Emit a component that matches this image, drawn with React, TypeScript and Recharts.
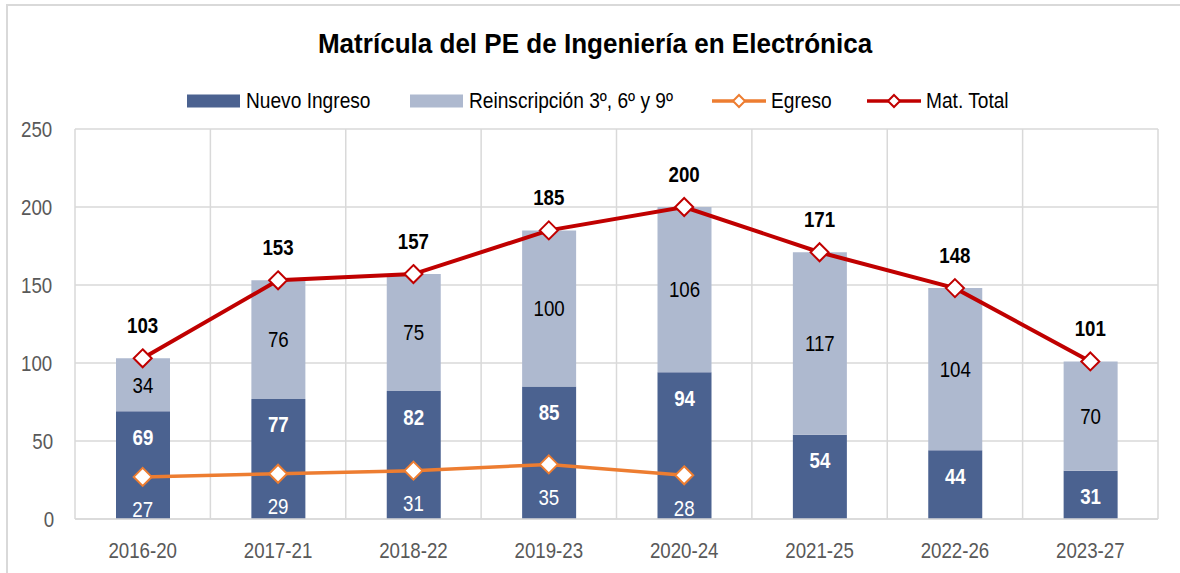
import {
  ComposedChart,
  Bar,
  Line,
  XAxis,
  YAxis,
  CartesianGrid,
  LabelList,
} from 'recharts'

const categories = ['2016-20', '2017-21', '2018-22', '2019-23', '2020-24', '2021-25', '2022-26', '2023-27']
const nuevoIngreso = [69, 77, 82, 85, 94, 54, 44, 31]
const reinscripcion = [34, 76, 75, 100, 106, 117, 104, 70]
const egreso = [27, 29, 31, 35, 28, null, null, null]
const matTotal = [103, 153, 157, 185, 200, 171, 148, 101]
const yTicks = [0, 50, 100, 150, 200, 250]

const FONT = '"Liberation Sans", Arial, sans-serif'
const DARK = '#4b6290'
const LIGHT = '#aeb9cf'
const ORANGE = '#ed7d31'
const RED = '#c00000'
const GRID = '#d9d9d9'

// the original uses a narrow face; squeeze the regular one instead
const narrow = { transform: 'scaleX(0.85)', transformBox: 'fill-box', transformOrigin: 'center' } as any

const data = categories.map((name, i) => ({
  name,
  nuevo: nuevoIngreso[i],
  reins: reinscripcion[i],
  egreso: egreso[i],
  total: matTotal[i],
}))

function diamond(color: string) {
  return (props: any) => {
    const { cx, cy, index } = props
    if (cx == null || cy == null) return <g key={`e-${index}`} />
    const r = 9
    return (
      <path
        key={`d-${index}`}
        d={`M${cx},${cy - r}L${cx + r},${cy}L${cx},${cy + r}L${cx - r},${cy}Z`}
        fill="#fff"
        stroke={color}
        strokeWidth={2}
      />
    )
  }
}

function LegendSwatch({ kind, color }: { kind: 'bar' | 'line'; color: string }) {
  return (
    <svg width={54} height={16} style={{ display: 'block' }}>
      {kind === 'bar' ? (
        <rect x={0} y={1.5} width={53} height={13} fill={color} />
      ) : (
        <>
          <line x1={0} y1={8} x2={54} y2={8} stroke={color} strokeWidth={3.5} />
          <path d="M27,2L33,8L27,14L21,8Z" fill="#fff" stroke={color} strokeWidth={2} />
        </>
      )}
    </svg>
  )
}

const legendItems = [
  { label: 'Nuevo Ingreso', kind: 'bar' as const, color: DARK, x: 187 },
  { label: 'Reinscripción 3º, 6º y 9º', kind: 'bar' as const, color: LIGHT, x: 410 },
  { label: 'Egreso', kind: 'line' as const, color: ORANGE, x: 712 },
  { label: 'Mat. Total', kind: 'line' as const, color: RED, x: 867 },
]

export default function App() {
  return (
    <div
      style={{
        position: 'absolute',
        left: 0,
        top: 0,
        width: 1180,
        height: 573,
        overflow: 'hidden',
        background: '#fff',
        fontFamily: FONT,
      }}
    >
      <div
        style={{
          position: 'absolute',
          left: 6,
          top: 4,
          width: 1200,
          height: 600,
          border: `2px solid ${GRID}`,
        }}
      />
      <div
        style={{
          position: 'absolute',
          left: 0,
          top: 25,
          width: 1190,
          textAlign: 'center',
          fontSize: 28,
          lineHeight: '38px',
          fontWeight: 'bold',
          color: '#000',
          transform: 'scaleX(0.93)',
          transformOrigin: '596px 50%',
        }}
      >
        Matrícula del PE de Ingeniería en Electrónica
      </div>
      {legendItems.map((it) => (
        <div
          key={it.label}
          style={{
            position: 'absolute',
            left: it.x,
            top: 87,
            height: 28,
            display: 'flex',
            alignItems: 'center',
            fontSize: 22,
            color: '#000',
            whiteSpace: 'nowrap',
          }}
        >
          <LegendSwatch kind={it.kind} color={it.color} />
          <span
            style={{
              marginLeft: 5,
              display: 'inline-block',
              transform: 'scaleX(0.87)',
              transformOrigin: 'left center',
            }}
          >
            {it.label}
          </span>
        </div>
      ))}
      <div style={{ position: 'absolute', left: 0, top: 0 }}>
        <ComposedChart
          width={1180}
          height={573}
          data={data}
          margin={{ top: 129, right: 22, left: 0, bottom: 0 }}
          barSize={54}
        >
          <CartesianGrid
            stroke={GRID}
            strokeWidth={1.5}
            verticalCoordinatesGenerator={({ offset }: any) =>
              Array.from({ length: categories.length + 1 }, (_, k) => offset.left + (k * offset.width) / categories.length)
            }
          />
          <XAxis
            dataKey="name"
            height={54}
            tickLine={false}
            axisLine={{ stroke: GRID, strokeWidth: 1.5 }}
            tickSize={0}
            tickMargin={23}
            tick={{ fill: '#595959', fontSize: 22, fontFamily: FONT, style: narrow }}
          />
          <YAxis
            width={75}
            domain={[0, 250]}
            ticks={yTicks}
            tickLine={false}
            axisLine={false}
            tickSize={0}
            tickMargin={20}
            tick={{ fill: '#595959', fontSize: 22, fontFamily: FONT, style: narrow }}
          />
          <Bar dataKey="nuevo" stackId="a" fill={DARK} isAnimationActive={false}>
            <LabelList
              dataKey="nuevo"
              position="insideTop"
              offset={18}
              fill="#fff"
              fontSize={22}
              fontWeight="bold"
              fontFamily={FONT}
              style={narrow}
            />
          </Bar>
          <Bar dataKey="reins" stackId="a" fill={LIGHT} isAnimationActive={false}>
            <LabelList dataKey="reins" position="center" fill="#000" fontSize={22} fontFamily={FONT} style={narrow} />
          </Bar>
          <Line
            dataKey="egreso"
            stroke={ORANGE}
            strokeWidth={3.5}
            dot={diamond(ORANGE)}
            activeDot={false}
            isAnimationActive={false}
          >
            <LabelList
              dataKey="egreso"
              position="bottom"
              offset={25}
              fill="#fff"
              fontSize={22}
              fontFamily={FONT}
              style={narrow}
            />
          </Line>
          <Line
            dataKey="total"
            stroke={RED}
            strokeWidth={4}
            dot={diamond(RED)}
            activeDot={false}
            isAnimationActive={false}
          >
            <LabelList
              dataKey="total"
              position="top"
              offset={25}
              fill="#000"
              fontSize={22}
              fontWeight="bold"
              fontFamily={FONT}
              style={narrow}
            />
          </Line>
        </ComposedChart>
      </div>
    </div>
  )
}
